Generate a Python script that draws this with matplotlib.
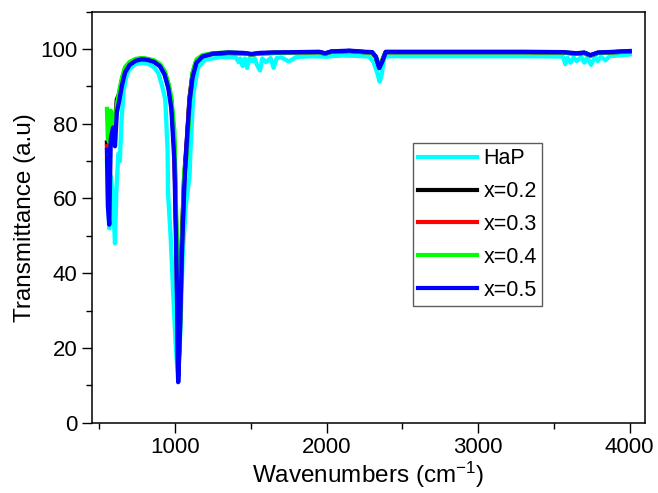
#!/usr/bin/env python3
from __future__ import annotations

import matplotlib

matplotlib.use("Agg")
import matplotlib.pyplot as plt
from matplotlib.ticker import MultipleLocator


# shared wavenumber grid for the doped samples (cm^-1)
WN = [550, 556, 565, 575, 590, 603, 615, 630, 650, 670,
      700, 740, 780, 820, 860, 900, 930, 955, 975, 995,
      1010, 1020, 1030, 1045, 1060, 1078, 1095, 1115, 1140, 1180,
      1250, 1350, 1450, 1505, 1560, 1650, 1800, 1950, 1990, 2030,
      2150, 2250, 2300, 2325, 2347, 2365, 2390, 2450, 2700, 3000,
      3300, 3560, 3650, 3700, 3741, 3790, 3850, 3950, 4000]

X02 = [75, 70, 72, 82, 81, 80, 86.5, 88, 92, 94.8,
       96.3, 97.2, 97.5, 97.3, 96.8, 95.8, 93.8, 90.5, 86, 74,
       46, 13, 24, 50, 66, 76, 87, 93.5, 96.8, 98.2,
       98.8, 99.0, 98.9, 98.6, 98.9, 99.0, 99.1, 99.2, 98.8, 99.3,
       99.5, 99.2, 99.1, 97.8, 95.3, 96.8, 99.2, 99.2, 99.2, 99.2,
       99.2, 99.1, 98.8, 99.0, 98.3, 99.0, 99.1, 99.3, 99.4]

X03 = [74, 68, 70, 80, 80, 78, 85, 87.5, 91.5, 94.5,
       96.2, 97.1, 97.4, 97.2, 96.7, 95.6, 93.5, 90, 85.5, 73,
       44, 12.5, 23, 48, 65, 75, 86.5, 93.2, 96.6, 98.1,
       98.8, 99.0, 98.9, 98.6, 98.9, 99.0, 99.1, 99.2, 98.8, 99.3,
       99.5, 99.2, 99.1, 97.8, 95.2, 96.8, 99.2, 99.2, 99.2, 99.2,
       99.2, 99.1, 98.8, 99.0, 98.3, 99.0, 99.1, 99.3, 99.4]

X04 = [84, 76, 75, 83.5, 82, 78, 85, 88.5, 92.5, 95.2,
       96.6, 97.4, 97.6, 97.4, 97.0, 96.0, 94.2, 91, 87, 78,
       50, 14, 21, 47, 67, 72, 85, 93.8, 97.2, 98.4,
       98.9, 99.1, 98.9, 98.6, 98.9, 99.0, 99.1, 99.2, 98.8, 99.3,
       99.5, 99.2, 99.1, 97.9, 95.4, 96.9, 99.2, 99.2, 99.2, 99.2,
       99.2, 99.1, 98.8, 99.0, 98.3, 99.0, 99.1, 99.3, 99.4]

X05 = [73, 58, 53, 76, 79, 74, 83, 86, 90.5, 93.8,
       95.8, 96.9, 97.3, 97.1, 96.6, 95.4, 93.2, 89.5, 84, 70,
       40, 10.8, 22, 46, 63, 76, 86, 92.5, 96.3, 98.0,
       98.8, 99.1, 99.0, 98.7, 99.0, 99.1, 99.2, 99.3, 98.9, 99.4,
       99.6, 99.3, 99.2, 98.0, 94.9, 96.5, 99.3, 99.3, 99.3, 99.3,
       99.3, 99.2, 98.9, 99.1, 98.4, 99.1, 99.2, 99.4, 99.5]

# pure hydroxyapatite, noisier trace on its own grid
WN_HAP = [550, 558, 565, 575, 585, 595, 603, 612, 625, 635,
          645, 660, 680, 700, 740, 780, 820, 860, 890, 915,
          935, 950, 953, 970, 990, 1005, 1020, 1035, 1050, 1070,
          1095, 1100, 1120, 1150, 1200, 1300, 1400, 1420, 1430, 1445,
          1460, 1475, 1490, 1510, 1525, 1540, 1560, 1575, 1600, 1630,
          1650, 1670, 1700, 1750, 1800, 1900, 2000, 2100, 2200, 2280,
          2310, 2335, 2350, 2362, 2380, 2400, 2600, 3000, 3400, 3560,
          3575, 3590, 3610, 3630, 3650, 3680, 3700, 3720, 3745, 3770,
          3790, 3810, 3840, 3870, 3900, 3950, 4000]

HAP = [70, 60, 52, 66, 62, 55, 48, 62, 72, 70,
       80, 89, 93, 94.8, 96.0, 96.3, 96.1, 95.2, 93.5, 90,
       86.5, 73, 61.5, 50, 32, 20, 11.4, 25, 45, 58,
       66, 72, 88, 95, 97.2, 97.9, 97.8, 96.5, 97.5, 95.5,
       97.5, 95.0, 97.6, 96.8, 97.6, 95.8, 94.3, 97.5, 96.5, 97.6,
       95.0, 97.6, 97.8, 96.7, 97.9, 98.1, 98.0, 98.3, 98.2, 98.0,
       96.5, 93.5, 91.3, 93.0, 97.8, 98.1, 98.1, 98.1, 98.1, 98.0,
       96.0, 97.7, 96.4, 97.8, 96.8, 97.9, 96.4, 97.8, 95.8, 97.9,
       96.8, 98.0, 97.0, 98.2, 98.2, 98.4, 98.6]

SERIES = [
    ("HaP", WN_HAP, HAP, "#00ffff"),
    ("x=0.2", WN, X02, "#000000"),
    ("x=0.3", WN, X03, "#ff0000"),
    ("x=0.4", WN, X04, "#00ff00"),
    ("x=0.5", WN, X05, "#0000ff"),
]


def main() -> None:
    plt.rcParams["font.family"] = ["Liberation Sans", "DejaVu Sans"]
    plt.rcParams["mathtext.default"] = "regular"
    fig = plt.figure(figsize=(6.58, 4.93), dpi=100)
    ax = fig.add_axes([0.140, 0.143, 0.840, 0.833])

    for label, x, y, color in SERIES:
        ax.plot(x, y, color=color, linewidth=3.1, label=label, solid_joinstyle="round")

    ax.set_xlim(452, 4100)
    ax.set_ylim(0, 110)
    ax.set_xticks([1000, 2000, 3000, 4000])
    ax.xaxis.set_minor_locator(MultipleLocator(500))
    ax.yaxis.set_major_locator(MultipleLocator(20))
    ax.yaxis.set_minor_locator(MultipleLocator(10))
    ax.tick_params(which="major", direction="out", length=7, width=1.0, labelsize=16)
    ax.tick_params(which="minor", direction="out", length=4, width=1.0)
    for sp in ax.spines.values():
        sp.set_linewidth(1.1)

    ax.set_xlabel(r"Wavenumbers (cm$^{-1}$)", fontsize=17.5, labelpad=1)
    ax.set_ylabel("Transmittance (a.u)", fontsize=17.5, labelpad=3)

    leg = ax.legend(
        loc="upper left",
        bbox_to_anchor=(0.580, 0.681),
        fontsize=15.5,
        frameon=True,
        fancybox=False,
        handlelength=2.75,
        handletextpad=0.3,
        labelspacing=0.55,
        borderpad=0.25,
        borderaxespad=0.0,
    )
    leg.get_frame().set_edgecolor("#333333")
    leg.get_frame().set_linewidth(1.0)
    for line in leg.get_lines():
        line.set_linewidth(3.0)

    fig.savefig("out.png", dpi=100)
    plt.close(fig)


if __name__ == "__main__":
    main()
